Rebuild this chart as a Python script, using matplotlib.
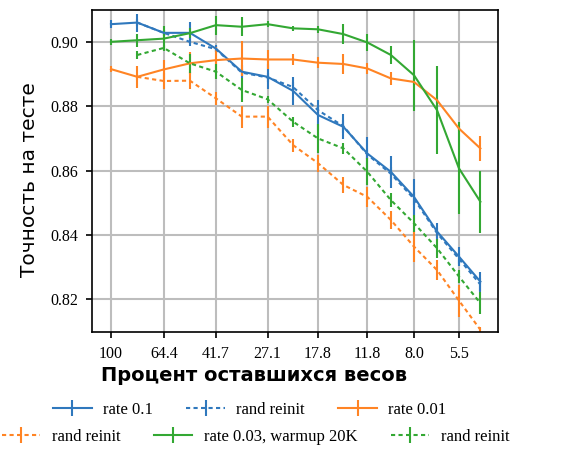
import numpy as np
import matplotlib
matplotlib.use("Agg")
import matplotlib.pyplot as plt
from matplotlib.ticker import FixedLocator, FixedFormatter, NullLocator

# percent of weights remaining
x_pct = [100, 80.3, 64.4, 51.8, 41.7, 33.6, 27.1, 21.9, 17.8, 14.4, 11.8, 9.7, 8.0, 6.6, 5.5, 4.6]
x_ticks = [100, 64.4, 41.7, 27.1, 17.8, 11.8, 8.0, 5.5]
x_ticklabels = ["100", "64.4", "41.7", "27.1", "17.8", "11.8", "8.0", "5.5"]

# rate 0.1
blue = [0.9056, 0.9061, 0.9029, 0.9029, 0.8980, 0.8908, 0.8892, 0.8848,
        0.8773, 0.8736, 0.8653, 0.8596, 0.8518, 0.8410, 0.8332, 0.8254]
blue_err = [0.0013, 0.0028, 0.0010, 0.0035, 0.0010, 0.0020, 0.0039, 0.0043,
            0.0047, 0.0039, 0.0052, 0.0050, 0.0057, 0.0026, 0.0029, 0.0031]
# rate 0.1, rand reinit (starts at 2nd point)
blue_r = [0.9061, 0.9029, 0.9001, 0.8978, 0.8905, 0.8890, 0.8860,
          0.8788, 0.8738, 0.8650, 0.8590, 0.8512, 0.8405, 0.8325, 0.8245]
blue_r_err = [0.0010, 0.0010, 0.0012, 0.0010, 0.0012, 0.0015, 0.0015,
              0.0015, 0.0020, 0.0015, 0.0020, 0.0020, 0.0015, 0.0015, 0.0020]

# rate 0.01
orange = [0.8916, 0.8892, 0.8915, 0.8934, 0.8944, 0.8949, 0.8946, 0.8946,
          0.8936, 0.8932, 0.8918, 0.8887, 0.8876, 0.8819, 0.8731, 0.8669]
orange_err = [0.0010, 0.0034, 0.0030, 0.0034, 0.0040, 0.0055, 0.0030, 0.0018,
              0.0018, 0.0030, 0.0018, 0.0020, 0.0008, 0.0008, 0.0008, 0.0040]
orange_r = [0.8892, 0.8879, 0.8880, 0.8825, 0.8768, 0.8768, 0.8679,
            0.8623, 0.8555, 0.8518, 0.8446, 0.8363, 0.8290, 0.8195, 0.8104]
orange_r_err = [0.0010, 0.0026, 0.0026, 0.0020, 0.0034, 0.0034, 0.0020,
                0.0026, 0.0026, 0.0030, 0.0029, 0.0049, 0.0030, 0.0050, 0.0010]

# rate 0.03, warmup 20K
green = [0.9001, 0.9006, 0.9011, 0.9028, 0.9053, 0.9048, 0.9056, 0.9043,
         0.9040, 0.9025, 0.8999, 0.8960, 0.8897, 0.8788, 0.8607, 0.8503]
green_err = [0.0010, 0.0020, 0.0040, 0.0015, 0.0030, 0.0029, 0.0010, 0.0008,
             0.0010, 0.0030, 0.0026, 0.0029, 0.0110, 0.0137, 0.0143, 0.0096]
green_r = [0.8960, 0.8982, 0.8934, 0.8908, 0.8851, 0.8822, 0.8752,
           0.8700, 0.8669, 0.8596, 0.8508, 0.8436, 0.8358, 0.8270, 0.8187]
green_r_err = [0.0013, 0.0008, 0.0030, 0.0023, 0.0036, 0.0010, 0.0015,
               0.0044, 0.0018, 0.0042, 0.0023, 0.0026, 0.0030, 0.0020, 0.0034]

fig = plt.figure(figsize=(5.88, 4.57), dpi=100)
ax = fig.add_axes([0.1565, 0.2735, 0.6905, 0.7045])

c_blue, c_orange, c_green = "#2f78bd", "#ff8424", "#33a833"
kw = dict(lw=1.5, elinewidth=1.5, capsize=0)
dots = (0, (2, 1.6))

h = []
h.append(ax.errorbar(x_pct, blue, yerr=blue_err, color=c_blue, ls="-", label="rate 0.1", **kw))
h.append(ax.errorbar(x_pct[1:], blue_r, yerr=blue_r_err, color=c_blue, ls=dots, label="rand reinit", **kw))
h.append(ax.errorbar(x_pct, orange, yerr=orange_err, color=c_orange, ls="-", label="rate 0.01", **kw))
h.append(ax.errorbar(x_pct[1:], orange_r, yerr=orange_r_err, color=c_orange, ls=dots, label="rand reinit", **kw))
h.append(ax.errorbar(x_pct, green, yerr=green_err, color=c_green, ls="-", label="rate 0.03, warmup 20K", **kw))
h.append(ax.errorbar(x_pct[1:], green_r, yerr=green_r_err, color=c_green, ls=dots, label="rand reinit", **kw))

ax.set_xscale("log")
ax.set_xlim(117.1, 3.97)
ax.set_ylim(0.8097, 0.910)
ax.xaxis.set_major_locator(FixedLocator(x_ticks))
ax.xaxis.set_major_formatter(FixedFormatter(x_ticklabels))
ax.xaxis.set_minor_locator(NullLocator())
ax.set_yticks([0.82, 0.84, 0.86, 0.88, 0.90])
ax.set_yticklabels(["0.82", "0.84", "0.86", "0.88", "0.90"])

ax.grid(True, color="#bdbdbd", lw=1.5)
ax.set_axisbelow(True)
for s in ax.spines.values():
    s.set_linewidth(1.2)
ax.tick_params(length=4, width=1.2, labelsize=11.5, pad=6)
for lab in ax.get_xticklabels() + ax.get_yticklabels():
    lab.set_family("Liberation Serif")

ax.set_xlabel("Процент оставшихся весов", fontsize=14, fontweight="bold", labelpad=3)
ax.xaxis.label.set_x(0.40)
ax.set_ylabel("Точность на тесте", fontsize=14.5, labelpad=8)
ax.yaxis.label.set_y(0.472)

leg_kw = dict(ncol=3, loc="center", frameon=False, handlelength=2.3,
              handletextpad=0.7, columnspacing=2.0,
              prop={"family": "Liberation Serif", "size": 12})
leg1 = fig.legend(h[:3], [x.get_label() for x in h[:3]],
                  bbox_to_anchor=(0.425, 0.103), **leg_kw)
leg2 = fig.legend(h[3:], [x.get_label() for x in h[3:]],
                  bbox_to_anchor=(0.435, 0.044), **leg_kw)

fig.savefig("out.png", dpi=100)
